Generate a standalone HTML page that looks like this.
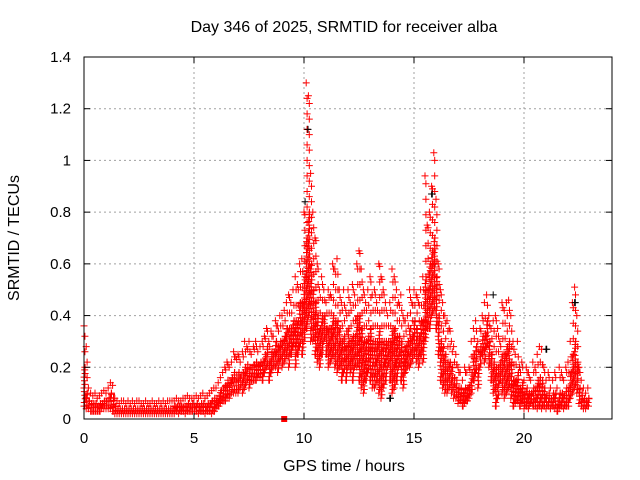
<!DOCTYPE html>
<html><head><meta charset="utf-8"><style>
body{margin:0;background:#fff}
svg{display:block;font-family:"Liberation Sans",sans-serif}
</style></head><body>
<svg id="chart" width="640" height="480" viewBox="0 0 640 480">
<text x="344" y="32" font-size="16" text-anchor="middle">Day 346 of 2025, SRMTID for receiver alba</text>
<text x="344" y="471" font-size="16" text-anchor="middle">GPS time / hours</text>
<text transform="translate(19,238) rotate(-90)" font-size="16" text-anchor="middle">SRMTID / TECUs</text>
<g id="grid"></g>
<g id="marks"></g>
<rect x="84" y="57" width="528" height="362" fill="none" stroke="#000" stroke-width="1"/>
<g id="ticks"></g>
</svg>
<script>
const xTicks=[0,5,10,15,20];
const yTicks=[0,0.2,0.4,0.6,0.8,1,1.2,1.4];
const yTickLabels=["0","0.2","0.4","0.6","0.8","1","1.2","1.4"];
const hiVals=[.36,.28,.12,.1,.09,.1,.08,.09,.1,.11,
.1,.12,.14,.13,.08,.07,.06,.07,.07,.06,
.07,.06,.07,.06,.07,.07,.06,.06,.07,.06,
.06,.07,.06,.06,.07,.06,.07,.06,.07,.07,
.07,.07,.08,.07,.07,.08,.08,.09,.08,.08,
.08,.09,.08,.09,.1,.08,.09,.1,.11,.12,
.12,.14,.16,.18,.2,.22,.2,.22,.26,.24,
.25,.22,.26,.3,.28,.3,.25,.28,.3,.26,
.28,.3,.32,.35,.3,.34,.32,.38,.36,.4,
.4,.42,.45,.48,.45,.5,.55,.52,.6,.62,
.8,1.3,1.25,.95,.8,.7,.6,.5,.55,.5,
.45,.5,.48,.6,.58,.62,.5,.45,.5,.42,
.5,.45,.52,.48,.6,.65,.58,.5,.45,.5,
.55,.48,.5,.45,.6,.55,.5,.45,.4,.45,
.58,.55,.5,.45,.48,.4,.38,.4,.5,.45,
.5,.48,.45,.5,.55,.94,.75,.8,.9,1.03,
.85,.6,.5,.45,.4,.38,.35,.3,.28,.25,
.2,.18,.15,.2,.18,.2,.3,.35,.38,.3,
.35,.4,.45,.48,.4,.35,.38,.4,.35,.3,
.45,.42,.45,.46,.4,.3,.25,.3,.2,.22,
.15,.2,.18,.15,.22,.2,.25,.28,.27,.2,
.15,.18,.12,.15,.18,.12,.2,.18,.15,.2,
.22,.3,.45,.51,.4,.2,.15,.12,.1,.12];
const midVals=[.2,.1,.07,.06,.06,.06,.05,.06,.06,.07,
.07,.08,.1,.08,.05,.04,.04,.04,.04,.04,
.04,.04,.04,.04,.04,.04,.04,.04,.04,.04,
.04,.04,.04,.04,.04,.04,.04,.04,.04,.04,
.04,.05,.05,.05,.05,.05,.05,.06,.05,.06,
.05,.06,.05,.06,.06,.05,.06,.06,.07,.08,
.08,.09,.11,.12,.13,.15,.14,.16,.18,.17,
.18,.17,.18,.2,.21,.2,.2,.21,.22,.21,
.22,.22,.25,.28,.22,.26,.26,.3,.28,.3,
.3,.32,.35,.35,.35,.38,.38,.38,.45,.45,
.55,.7,.8,.6,.5,.45,.4,.35,.4,.4,
.35,.35,.35,.4,.38,.38,.35,.3,.32,.28,
.35,.3,.32,.32,.4,.4,.35,.3,.3,.32,
.35,.3,.3,.3,.35,.3,.3,.3,.3,.3,
.35,.35,.32,.32,.3,.26,.28,.3,.35,.32,
.38,.35,.32,.38,.38,.55,.5,.6,.65,.7,
.55,.4,.3,.28,.25,.22,.22,.2,.16,.15,
.12,.12,.1,.12,.12,.13,.18,.25,.28,.2,
.28,.32,.33,.38,.3,.25,.22,.2,.2,.22,
.25,.25,.28,.3,.22,.15,.15,.18,.12,.14,
.1,.12,.1,.1,.12,.12,.15,.16,.15,.12,
.09,.1,.08,.1,.1,.07,.1,.1,.09,.12,
.12,.18,.25,.3,.22,.12,.1,.08,.07,.08];
const loVals=[.05,.04,.04,.03,.03,.03,.03,.03,.04,.04,
.04,.04,.04,.03,.02,.02,.02,.02,.02,.02,
.02,.02,.02,.02,.02,.02,.02,.02,.02,.02,
.02,.02,.02,.02,.02,.02,.02,.02,.02,.02,
.02,.02,.03,.02,.03,.03,.02,.03,.03,.03,
.03,.03,.02,.03,.03,.02,.03,.03,.02,.03,
.04,.05,.06,.07,.07,.08,.08,.1,.1,.1,
.1,.12,.1,.12,.14,.12,.15,.15,.15,.16,
.16,.15,.18,.2,.15,.18,.2,.2,.18,.22,
.2,.22,.25,.2,.25,.28,.2,.25,.28,.25,
.3,.35,.4,.3,.3,.25,.22,.2,.25,.3,
.25,.2,.22,.25,.2,.18,.2,.15,.18,.15,
.2,.18,.15,.2,.2,.15,.12,.1,.15,.18,
.15,.12,.12,.15,.1,.08,.12,.15,.2,.15,
.1,.12,.15,.2,.15,.12,.18,.2,.2,.22,
.25,.22,.2,.25,.22,.3,.35,.35,.4,.42,
.35,.25,.15,.12,.1,.1,.12,.1,.08,.08,
.06,.07,.05,.06,.07,.08,.1,.15,.18,.12,
.2,.25,.22,.28,.2,.15,.1,.05,.08,.15,
.1,.08,.1,.12,.08,.05,.06,.07,.05,.06,
.04,.05,.04,.06,.05,.05,.04,.05,.04,.05,
.04,.05,.04,.05,.04,.03,.04,.05,.04,.05,
.05,.08,.1,.12,.1,.06,.05,.04,.04,.05];
const blackTimes=[10.15,10.05,15.8,15.95,22.3,18.6,13.9,19.8,21.0];
const blackVals=[1.12,0.84,0.87,0.6,0.45,0.48,0.08,0.2,0.27];
const squareTimes=[9.1];
const squareVals=[0];
const timeStep=0.1;
const X0=84,X1=612,Y0=419,Y1=57;
const xs=t=>X0+(X1-X0)*t/24;
const ys=v=>Y0-(Y0-Y1)*v/1.4;
const NS="http://www.w3.org/2000/svg";
const grid=document.getElementById('grid'),marks=document.getElementById('marks'),ticks=document.getElementById('ticks');
function mk(tag,a,p){const e=document.createElementNS(NS,tag);for(const k in a)e.setAttribute(k,a[k]);p.appendChild(e);return e;}
xTicks.forEach(t=>{const x=xs(t);
 if(t>0){const g=mk('line',{x1:x,x2:x,y1:Y1,y2:Y0,stroke:'#a0a0a0','stroke-dasharray':'2,3'},grid);
 
 }
 [[Y0,Y0-6],[Y1,Y1+6]].forEach(p=>{const l=mk('line',{x1:x,x2:x,y1:p[0],y2:p[1],stroke:'#000'},ticks);
 
 });
 const tx=mk('text',{x:x,y:443,'font-size':15,'text-anchor':'middle'},ticks);tx.textContent=String(t);
 
 
});
yTicks.forEach((v,i)=>{const y=ys(v);
 if(v>0&&v<1.4){const g=mk('line',{x1:X0,x2:X1,y1:y,y2:y,stroke:'#a0a0a0','stroke-dasharray':'2,3'},grid);
 
 }
 [[X0,X0+6],[X1,X1-6]].forEach(p=>{const l=mk('line',{x1:p[0],x2:p[1],y1:y,y2:y,stroke:'#000'},ticks);
 
 });
 const tx=mk('text',{x:71,y:y+5,'font-size':15,'text-anchor':'end'},ticks);tx.textContent=yTickLabels[i];
 
 
});
let pathD={red:'',black:''};
function plus(t,v,c){const x=xs(t),y=ys(v);
 pathD[c]+=`M${(x-3.5).toFixed(1)},${y.toFixed(1)}H${(x+3.5).toFixed(1)}M${x.toFixed(1)},${(y-3.5).toFixed(1)}V${(y+3.5).toFixed(1)}`;}
blackTimes.forEach((t,i)=>plus(t,blackVals[i],'black'));
hiVals.forEach((hv,i)=>{const t=i*timeStep,lv=loVals[i],mv=midVals[i];
 const dense=0.014, sparse=0.06;
 for(let v=lv;v<mv;v+=dense)plus(t+((v*100)%2)*0.03,v,'red');
 for(let v=mv;v<hv;v+=sparse)plus(t+0.04,v,'red');
 plus(t,hv,'red');plus(t+0.05,mv,'red');plus(t,lv,'red');
});
const pb=mk('path',{d:pathD.black,stroke:'#000','stroke-width':1,fill:'none'},marks);


const pr=mk('path',{d:pathD.red,stroke:'#ff0000','stroke-width':1,fill:'none'},marks);


pathD.black='';
blackTimes.forEach((t,i)=>{if(i%2===0)plus(t+0.03,blackVals[i],'black');});
const pb2=mk('path',{d:pathD.black,stroke:'#000','stroke-width':1,fill:'none'},marks);


squareTimes.forEach((t,i)=>{const r=mk('rect',{x:xs(t)-3,y:ys(squareVals[i])-3,width:6,height:6,fill:'#ff0000'},marks);
 
 });
</script>
</body></html>
